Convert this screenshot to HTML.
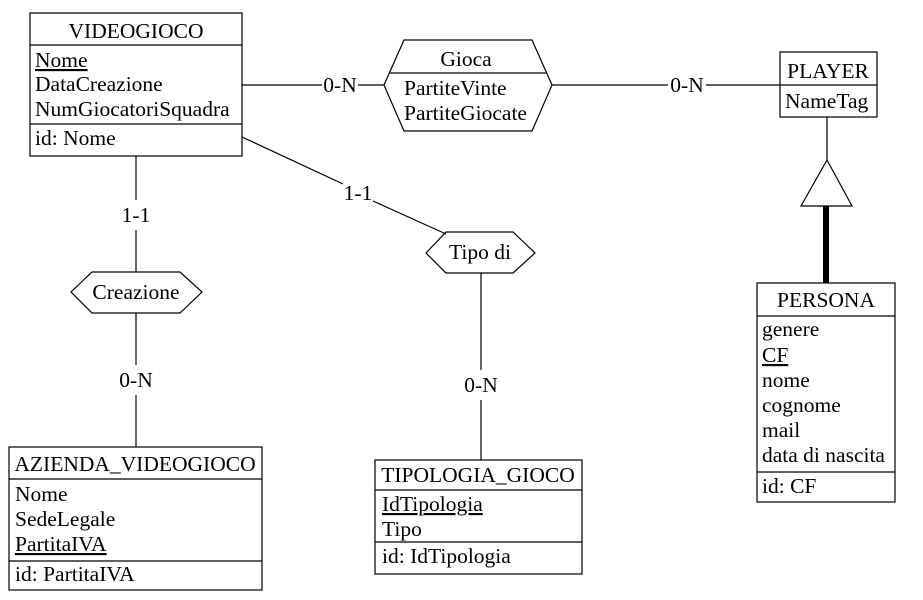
<!DOCTYPE html>
<html><head><meta charset="utf-8"><style>body{margin:0;background:#fff}svg{display:block}text{font-family:"Liberation Serif",serif;font-size:21.5px;fill:#000}</style></head><body>
<svg width="923" height="600" viewBox="0 0 923 600" xmlns="http://www.w3.org/2000/svg">
<g fill="none" stroke="#000" stroke-width="1.2">
<line x1="242" y1="85" x2="322" y2="85"/><line x1="358" y1="85" x2="384" y2="85"/>
<line x1="552" y1="85" x2="668" y2="85"/><line x1="706" y1="85" x2="780" y2="85"/>
<line x1="136" y1="156" x2="136" y2="200"/><line x1="136" y1="230" x2="136" y2="272"/>
<line x1="136" y1="313" x2="136" y2="365"/><line x1="136" y1="395" x2="136" y2="447"/>
<line x1="242" y1="137" x2="343" y2="184"/><line x1="373" y1="201" x2="446" y2="234"/>
<line x1="481" y1="273" x2="481" y2="370"/><line x1="481" y1="400" x2="481" y2="460"/>
<line x1="827" y1="117" x2="827" y2="160"/>
<polygon points="827,160 852,206 801,206"/>
<rect x="30" y="13" width="212" height="143"/><line x1="30" y1="45" x2="242" y2="45"/><line x1="30" y1="124" x2="242" y2="124"/>
<polygon points="384,85 404,40 532,40 552,85 532,131 404,131"/><line x1="389" y1="73" x2="547" y2="73"/>
<rect x="780" y="52" width="97" height="65"/><line x1="780" y1="85" x2="877" y2="85"/>
<rect x="757" y="283" width="138" height="219"/><line x1="757" y1="316" x2="895" y2="316"/><line x1="757" y1="472" x2="895" y2="472"/>
<polygon points="71,292 92,272 180,272 202,292 180,313 92,313"/>
<polygon points="426,253 446,232 513,232 535,253 513,273 446,273"/>
<rect x="9" y="447" width="253" height="143"/><line x1="9" y1="479" x2="262" y2="479"/><line x1="9" y1="561" x2="262" y2="561"/>
<rect x="375" y="460" width="207" height="114"/><line x1="375" y1="490" x2="582" y2="490"/><line x1="375" y1="542" x2="582" y2="542"/>
</g>
<line x1="826" y1="206" x2="826" y2="283" stroke="#000" stroke-width="6"/>
<g>
<text x="136" y="38" text-anchor="middle">VIDEOGIOCO</text>
<text x="35" y="67" text-decoration="underline">Nome</text>
<text x="35" y="91">DataCreazione</text>
<text x="35" y="116">NumGiocatoriSquadra</text>
<text x="35" y="145">id: Nome</text>
<text x="340" y="92" text-anchor="middle">0-N</text>
<text x="466" y="66" text-anchor="middle">Gioca</text>
<text x="404" y="95">PartiteVinte</text>
<text x="404" y="120">PartiteGiocate</text>
<text x="687" y="92" text-anchor="middle">0-N</text>
<text x="828" y="78" text-anchor="middle">PLAYER</text>
<text x="785" y="108">NameTag</text>
<text x="826" y="307" text-anchor="middle">PERSONA</text>
<text x="762" y="336">genere</text>
<text x="762" y="362" text-decoration="underline">CF</text>
<text x="762" y="387">nome</text>
<text x="762" y="412">cognome</text>
<text x="762" y="437">mail</text>
<text x="762" y="462">data di nascita</text>
<text x="762" y="493">id: CF</text>
<text x="136" y="222" text-anchor="middle">1-1</text>
<text x="136" y="299" text-anchor="middle">Creazione</text>
<text x="136" y="387" text-anchor="middle">0-N</text>
<text x="358" y="200" text-anchor="middle">1-1</text>
<text x="480" y="259" text-anchor="middle">Tipo di</text>
<text x="481" y="392" text-anchor="middle">0-N</text>
<text x="135" y="471" text-anchor="middle">AZIENDA_VIDEOGIOCO</text>
<text x="15" y="501">Nome</text>
<text x="15" y="526">SedeLegale</text>
<text x="15" y="551" text-decoration="underline">PartitaIVA</text>
<text x="15" y="581">id: PartitaIVA</text>
<text x="478" y="482" text-anchor="middle">TIPOLOGIA_GIOCO</text>
<text x="382" y="511" text-decoration="underline">IdTipologia</text>
<text x="382" y="536">Tipo</text>
<text x="382" y="563">id: IdTipologia</text>
</g>
</svg>
</body></html>
